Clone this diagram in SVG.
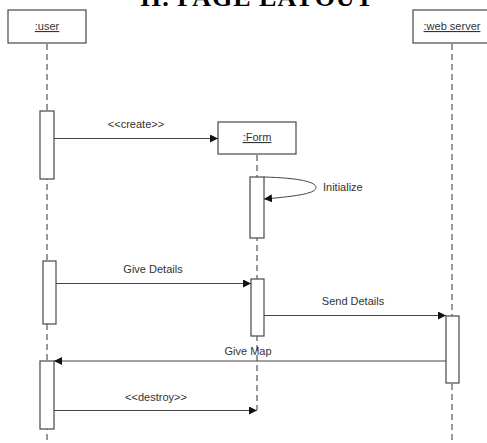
<svg xmlns="http://www.w3.org/2000/svg" width="487" height="443" viewBox="0 0 487 443">
<style>
.box{fill:#fff;stroke:#555;stroke-width:1.3}
.act{fill:#fff;stroke:#555;stroke-width:1.3}
.life{stroke:#777;stroke-width:1.5;stroke-dasharray:6,4;fill:none}
.msg{stroke:#444;stroke-width:1;fill:none}
.lbl{font-family:"Liberation Sans",Arial,sans-serif;font-size:11px;fill:#333;text-anchor:middle}
.name{font-family:"Liberation Sans",Arial,sans-serif;font-size:11px;fill:#333;text-anchor:middle;text-decoration:underline}
</style>
<defs>
<marker id="ah" markerWidth="9" markerHeight="8" refX="8" refY="4" orient="auto" markerUnits="userSpaceOnUse">
<path d="M0,0 L8,4 L0,8 Z" fill="#111"/>
</marker>
</defs>
<text x="140" y="6" font-family="'Liberation Serif','Times New Roman',serif" font-weight="bold" font-size="26" textLength="233" fill="#000">II.  PAGE LAYOUT</text>
<g id="lifelines">
<line class="life" x1="47" y1="44" x2="47" y2="443"/>
<line class="life" x1="257" y1="155" x2="257" y2="410"/>
<line class="life" x1="452" y1="44" x2="452" y2="443"/>
</g>
<g id="user">
<rect class="box" x="8" y="10" width="78" height="33"/>
<text class="name" x="47" y="30">:user</text>
</g>
<g id="webserver">
<rect class="box" x="413" y="10" width="80" height="33"/>
<text class="name" x="452" y="30">:web server</text>
</g>
<g id="form">
<rect class="box" x="218" y="122" width="78" height="32"/>
<text class="name" x="257" y="141">:Form</text>
</g>
<g id="activations">
<rect class="act" x="40" y="111" width="14" height="68"/>
<rect class="act" x="250" y="177" width="14" height="61"/>
<rect class="act" x="43" y="261" width="13" height="63"/>
<rect class="act" x="251" y="279" width="13" height="57"/>
<rect class="act" x="446" y="316" width="13" height="67"/>
<rect class="act" x="40" y="361" width="14" height="68"/>
</g>
<g id="connectors">
<line class="msg" x1="54" y1="138.5" x2="218" y2="138.5" marker-end="url(#ah)"/>
<path class="msg" d="M264,177 C300,178 316,182 316,187.5 C316,193 300,196 264,199" marker-end="url(#ah)"/>
<line class="msg" x1="56" y1="283.5" x2="251" y2="283.5" marker-end="url(#ah)"/>
<line class="msg" x1="264" y1="315.5" x2="446" y2="315.5" marker-end="url(#ah)"/>
<line class="msg" x1="446" y1="361" x2="54" y2="361" marker-end="url(#ah)"/>
<line class="msg" x1="54" y1="410.5" x2="257" y2="410.5" marker-end="url(#ah)"/>
</g>
<g id="labels">
<text class="lbl" x="136" y="128">&lt;&lt;create&gt;&gt;</text>
<text class="lbl" x="323" y="191" style="text-anchor:start">Initialize</text>
<text class="lbl" x="153" y="273">Give Details</text>
<text class="lbl" x="353" y="305">Send Details</text>
<text class="lbl" x="248" y="355">Give Map</text>
<text class="lbl" x="156" y="401">&lt;&lt;destroy&gt;&gt;</text>
</g>
</svg>
